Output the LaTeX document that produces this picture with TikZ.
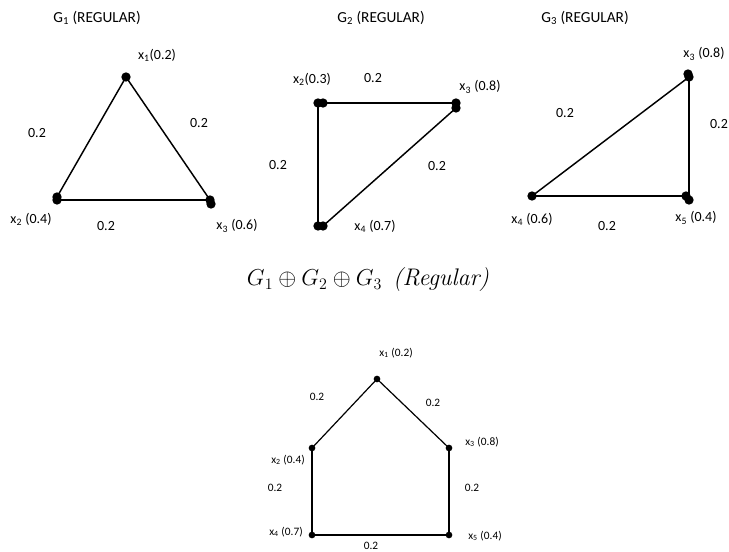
\documentclass[tikz,border=0pt]{standalone}
\usepackage{fontspec}
\setmainfont{Carlito}
\begin{document}
\begin{tikzpicture}[x=0.75pt,y=-0.75pt,
  dot/.style={circle,fill=black,inner sep=0pt,minimum size=7pt},
  sdot/.style={circle,fill=black,inner sep=0pt,minimum size=5pt},
  edge/.style={line width=1.1pt},
  sedge/.style={line width=0.9pt},
  lbl/.style={inner sep=0pt,font=\fontsize{10.5}{12}\selectfont},
  ttl/.style={inner sep=0pt,font=\fontsize{11.5}{13}\selectfont},
  slbl/.style={inner sep=0pt,font=\fontsize{8.5}{10}\selectfont}]
\useasboundingbox (0,0) rectangle (729,552);
% ---------- G1 ----------
\node[ttl] (t1) at (97,18) {G\textsubscript{1} (REGULAR)};
\node[dot] (a1) at (126,77) {};
\node[dot] (a2) at (57,197) {};
\node[dot] (a2b) at (57,200) {};
\node[dot] (a3) at (210,200) {};
\node[dot] (a3b) at (211,204) {};
\draw[edge] (a1.center) -- (a2.center);
\draw[edge] (a1.center) -- (a3.center);
\draw[edge] (a2b.center) -- (a3.center);
\node[lbl] (la1) at (157,55) {x\textsubscript{1}(0.2)};
\node[lbl] (la2) at (31,219) {x\textsubscript{2} (0.4)};
\node[lbl] (la3) at (237,226) {x\textsubscript{3} (0.6)};
\node[lbl] (wa12) at (37,133) {0.2};
\node[lbl] (wa13) at (199,123) {0.2};
\node[lbl] (wa23) at (106,226) {0.2};
% ---------- G2 ----------
\node[ttl] (t2) at (381,18) {G\textsubscript{2} (REGULAR)};
\node[dot] (b2) at (318,103) {};
\node[dot] (b2b) at (323,103) {};
\node[dot] (b3) at (456,103) {};
\node[dot] (b3b) at (456,108) {};
\node[dot] (b4) at (318,226) {};
\node[dot] (b4b) at (323,226) {};
\draw[edge] (b2.center) -- (b3.center);
\draw[edge] (b2.center) -- (b4.center);
\draw[edge] (b3b.center) -- (b4b.center);
\node[lbl] (lb2) at (312,79) {x\textsubscript{2}(0.3)};
\node[lbl] (lb3) at (480,87) {x\textsubscript{3} (0.8)};
\node[lbl] (lb4) at (375,226) {x\textsubscript{4} (0.7)};
\node[lbl] (wb23) at (373,78) {0.2};
\node[lbl] (wb24) at (278,165) {0.2};
\node[lbl] (wb34) at (437,166) {0.2};
% ---------- G3 ----------
\node[ttl] (t3) at (585,18) {G\textsubscript{3} (REGULAR)};
\node[dot] (c3) at (688,74) {};
\node[dot] (c3b) at (689,77) {};
\node[dot] (c4) at (532,196) {};
\node[dot] (c5) at (686,196) {};
\node[dot] (c5b) at (689,200) {};
\draw[edge] (c4.center) -- (c3b.center);
\draw[edge] (c3b.center) -- (c5b.center);
\draw[edge] (c4.center) -- (c5.center);
\node[lbl] (lc3) at (704,54) {x\textsubscript{3} (0.8)};
\node[lbl] (lc4) at (532,219) {x\textsubscript{4} (0.6)};
\node[lbl] (lc5) at (696,218) {x\textsubscript{5} (0.4)};
\node[lbl] (wc34) at (565,113) {0.2};
\node[lbl] (wc35) at (719,124) {0.2};
\node[lbl] (wc45) at (607,226) {0.2};
% ---------- formula ----------
\node[inner sep=0pt,font=\fontsize{18}{21}\selectfont] (f) at (368,280) {$G_1\oplus G_2\oplus G_3$\ \ {\fontfamily{lmr}\selectfont\itshape (Regular)}};
% ---------- combined ----------
\node[sdot] (d1) at (377,379) {};
\node[sdot] (d2) at (312,448) {};
\node[sdot] (d3) at (449,448) {};
\node[sdot] (d4) at (312,535) {};
\node[sdot] (d5) at (449,535) {};
\draw[sedge] (d1.center) -- (d2.center);
\draw[sedge] (d1.center) -- (d3.center);
\draw[sedge] (d2.center) -- (d4.center);
\draw[sedge] (d3.center) -- (d5.center);
\draw[sedge] (d4.center) -- (d5.center);
\node[slbl] (ld1) at (396,353) {x\textsubscript{1} (0.2)};
\node[slbl] (ld2) at (288,460) {x\textsubscript{2} (0.4)};
\node[slbl] (ld3) at (482,442) {x\textsubscript{3} (0.8)};
\node[slbl] (ld4) at (286,532) {x\textsubscript{4} (0.7)};
\node[slbl] (ld5) at (485,536) {x\textsubscript{5} (0.4)};
\node[slbl] (wd12) at (317,397) {0.2};
\node[slbl] (wd13) at (433,403) {0.2};
\node[slbl] (wd24) at (275,488) {0.2};
\node[slbl] (wd35) at (472,488) {0.2};
\node[slbl] (wd45) at (371,546) {0.2};
\end{tikzpicture}
\end{document}
